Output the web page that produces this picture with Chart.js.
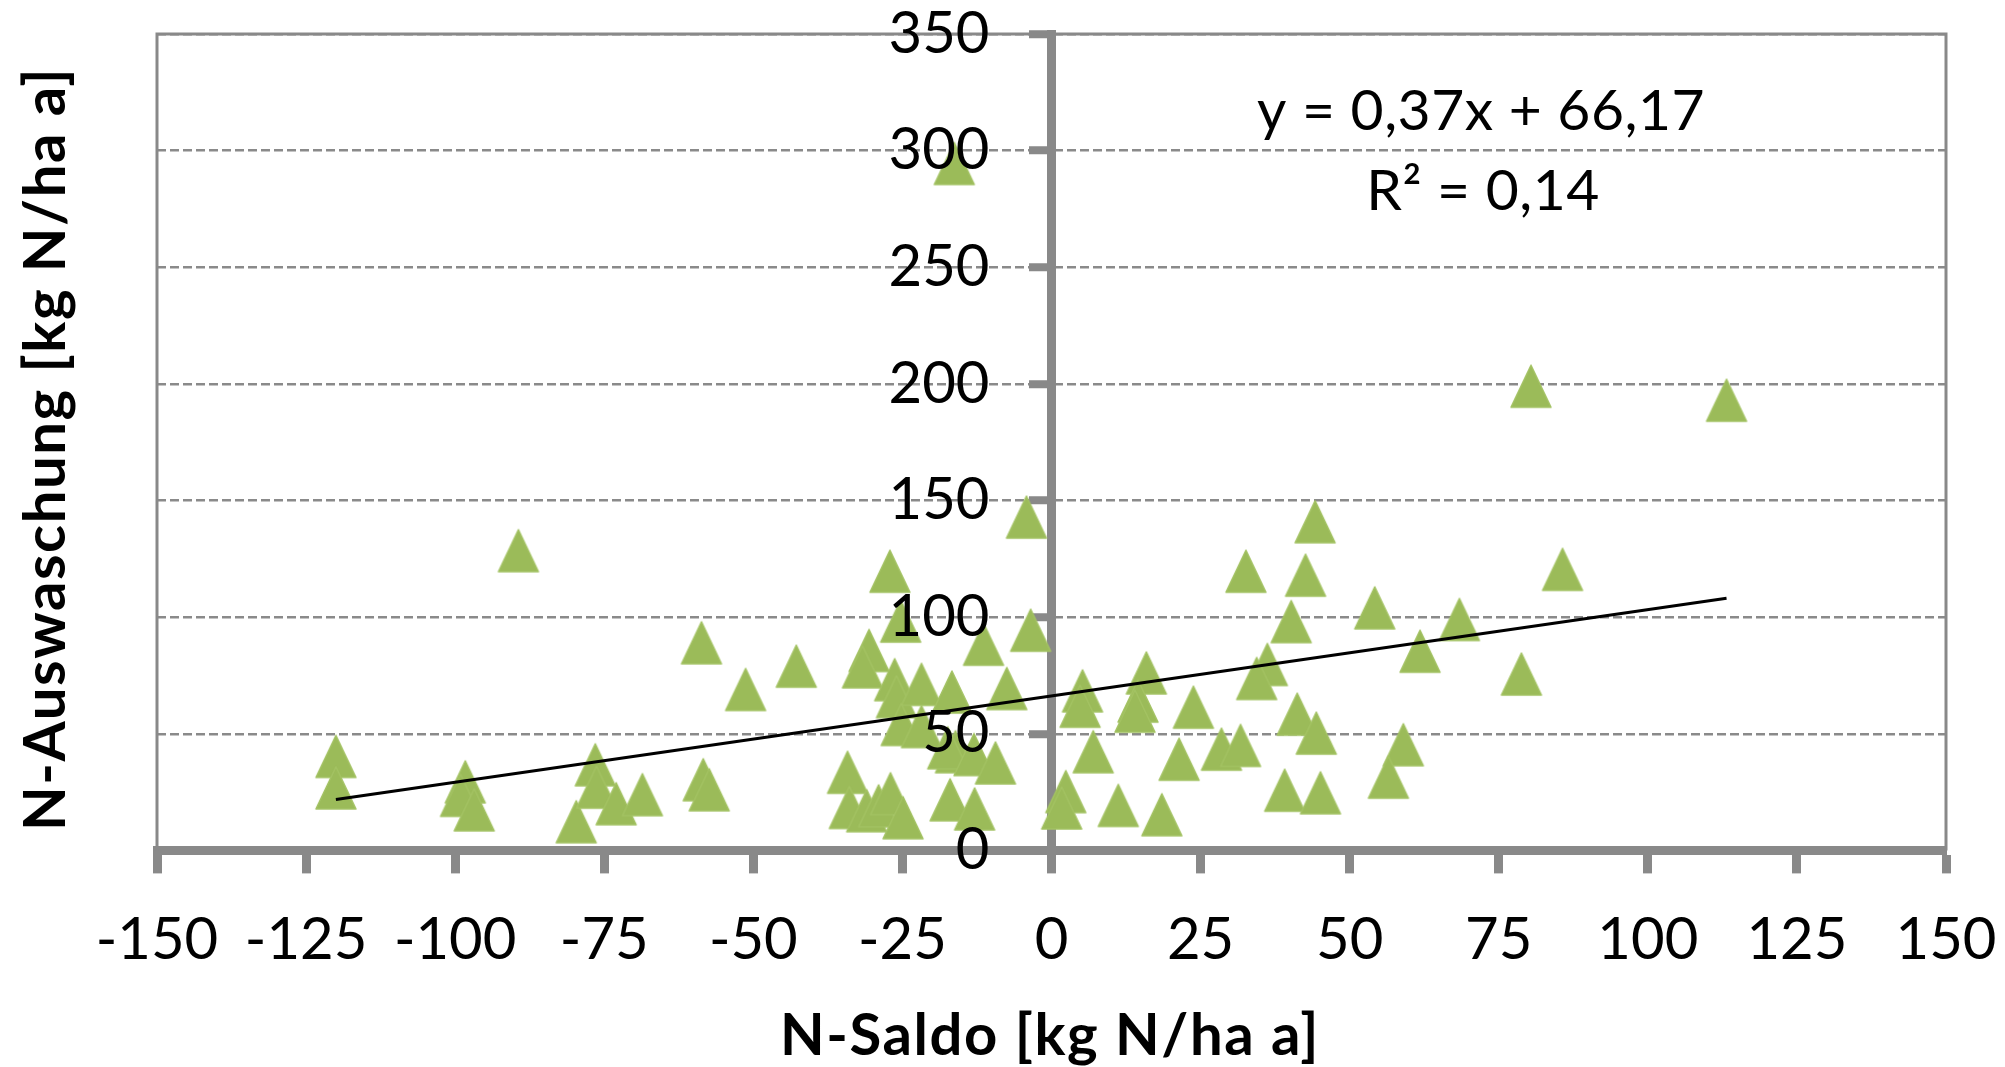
<!DOCTYPE html>
<html>
<head>
<meta charset="utf-8">
<script src="https://cdn.jsdelivr.net/npm/chart.js@4.4.1/dist/chart.umd.min.js"></script>
<style>
  html, body { margin: 0; padding: 0; background: #ffffff; }
  #myChart { display: block; }
</style>
</head>
<body>
<canvas id="myChart" width="2005" height="1067"></canvas>
<script>
// N-Saldo (x) and N-Auswaschung (y)
const saldo = [
  -89.4, -58.7, -51.3, -120, -120, -98.3, -99.1, -96.8, -79.7, -76.5,
  -76.3, -73, -68.6, -58.4, -57.4, -4.2, -27.1, -25.3, -3.5, -11.4,
  -42.8, -30.6, -31.7, -26.3, -26, -21.8, -16.7, -7.5, -25.2, -21.8,
  -16.1, -17.4, -13, -9.4, -34.2, -33.9, -31, -29, -27, -24.9,
  -17, -12.9, 2.4, 1.7, 5.2, 4.8, 7, 11.2, 18.5, 15.9,
  14.5, 14, 23.8, 21.4, 28.5, 31.7, 32.6, 36.2, 34.4, 40.2,
  42.6, 44.2, 41.2, 44.4, 39.1, 45.1, 54.2, 61.8, 59, 56.5,
  68.4, 78.8, 85.7, -16.3, 80.4, 113.2
];
const auswaschung = [
  128.5, 89, 69, 40.3, 26.8, 29.4, 23.6, 17.4, 12.3, 36.7,
  27.1, 20, 23.9, 30.3, 26, 142.9, 119.7, 98.3, 94.4, 88.4,
  79, 85.7, 78.7, 73.2, 65.9, 71.2, 67.9, 69.4, 54, 53.1,
  42.3, 44, 41.1, 37.5, 33.5, 18.4, 17, 19.1, 24.3, 14,
  21.7, 17.8, 25.2, 18.2, 68.4, 61.8, 42.3, 19.3, 15.3, 76.1,
  64, 59.7, 61.4, 39.1, 43.4, 45, 119.7, 79.7, 73.7, 98.1,
  118, 140.9, 58.4, 50.3, 25.8, 24.7, 104, 85.4, 45.3, 31.4,
  99, 75.6, 120.5, 294.5, 199, 193
];

// linear trend line end points
const trendX = [-120, 113.2];
const trendY = [21.8, 108.1];

const xTicks = { min: -150, max: 150, step: 25 };
const yTicks = { min: 0, max: 350, step: 50 };

const xTitle = 'N-Saldo [kg N/ha a]';
const yTitle = 'N-Auswaschung [kg N/ha a]';
const equationText = 'y = 0,37x + 66,17';
const rSquaredText = 'R² = 0,14';

const axisGrey = '#898989';
const gridGrey = '#8a8a8a';
const green = '#9bbb59';

// Excel-like triangle marker, centred on its bounding box
function makeTriangle(w, h) {
    const c = document.createElement('canvas');
    c.width = w + 4;
    c.height = h + 4;
    const g = c.getContext('2d');
    g.fillStyle = green;
    g.strokeStyle = '#a3c263';
    g.lineWidth = 1.5;
    g.lineJoin = 'round';
    g.beginPath();
    g.moveTo(c.width / 2, 2);
    g.lineTo(c.width - 2, h + 2);
    g.lineTo(2, h + 2);
    g.closePath();
    g.fill();
    g.stroke();
    return c;
}
const triangle = makeTriangle(40, 42);

const points = saldo.map((x, i) => ({ x: x, y: auswaschung[i] }));
const trend = trendX.map((x, i) => ({ x: x, y: trendY[i] }));

// keep the tick labels from eating into the plot area
function noLabelPadding(scale) {
    scale.paddingLeft = 0;
    scale.paddingRight = 0;
    scale.paddingTop = 0;
    scale.paddingBottom = 0;
}

// plot frame, axis titles and regression text
const extras = {
    id: 'extras',
    beforeDatasetsDraw(chart) {
        const { ctx, chartArea: a } = chart;
        ctx.save();
        ctx.strokeStyle = axisGrey;
        ctx.lineWidth = 3;
        ctx.beginPath();
        ctx.moveTo(a.left, a.bottom);
        ctx.lineTo(a.left, a.top);
        ctx.lineTo(a.right, a.top);
        ctx.lineTo(a.right, a.bottom);
        ctx.stroke();
        ctx.restore();
    },
    afterDraw(chart) {
        const { ctx } = chart;
        ctx.save();
        ctx.fillStyle = '#000000';
        ctx.font = 'bold 58px Lato';
        ctx.letterSpacing = '1.6px';
        ctx.textAlign = 'center';
        ctx.textBaseline = 'alphabetic';
        ctx.fillText(xTitle, 1050, 1055);
        ctx.translate(65, 449);
        ctx.rotate(-Math.PI / 2);
        ctx.fillText(yTitle, 0, 0);
        ctx.restore();

        ctx.save();
        ctx.fillStyle = '#000000';
        ctx.font = '57px Lato';
        ctx.letterSpacing = '0.5px';
        ctx.textAlign = 'center';
        ctx.textBaseline = 'alphabetic';
        ctx.fillText(equationText, 1481, 130);
        ctx.fillText(rSquaredText, 1483, 210);
        ctx.restore();
    }
};

const data = {
    datasets: [{
        type: 'line',
        label: 'Trend',
        data: trend,
        borderColor: '#000000',
        borderWidth: 3,
        pointRadius: 0,
        fill: false,
        order: 0
    }, {
        type: 'scatter',
        label: 'N-Auswaschung',
        data: points,
        pointStyle: triangle,
        pointRadius: 20,
        order: 1
    }]
};

const config = {
    type: 'scatter',
    data,
    options: {
        responsive: false,
        animation: false,
        devicePixelRatio: 1,
        layout: {
            padding: { left: 157, right: 59, top: 34, bottom: 60 }
        },
        plugins: {
            legend: { display: false },
            tooltip: { enabled: false }
        },
        scales: {
            x: {
                type: 'linear',
                position: 'bottom',
                min: xTicks.min,
                max: xTicks.max,
                afterFit: noLabelPadding,
                ticks: {
                    stepSize: xTicks.step,
                    color: '#000000',
                    padding: 32,
                    font: { family: 'Lato', size: 58, lineHeight: 1.2 }
                },
                grid: {
                    display: true,
                    drawOnChartArea: false,
                    drawTicks: true,
                    tickLength: 23,
                    tickWidth: 9,
                    tickColor: axisGrey
                },
                border: { display: true, width: 9, color: axisGrey },
                title: { display: false }
            },
            y: {
                type: 'linear',
                position: 'center',
                min: yTicks.min,
                max: yTicks.max,
                afterFit: noLabelPadding,
                ticks: {
                    stepSize: yTicks.step,
                    color: '#000000',
                    padding: 44,
                    z: 1,
                    font: { family: 'Lato', size: 58, lineHeight: 1 }
                },
                grid: {
                    color: gridGrey,
                    lineWidth: 2.5,
                    drawTicks: true,
                    tickLength: 18,
                    tickWidth: 8,
                    tickColor: axisGrey,
                    tickBorderDash: []
                },
                border: { display: true, width: 9, color: axisGrey, dash: [9, 4] },
                title: { display: false }
            }
        }
    },
    plugins: [extras]
};

const myChart = new Chart(document.getElementById('myChart'), config);
</script>
</body>
</html>
